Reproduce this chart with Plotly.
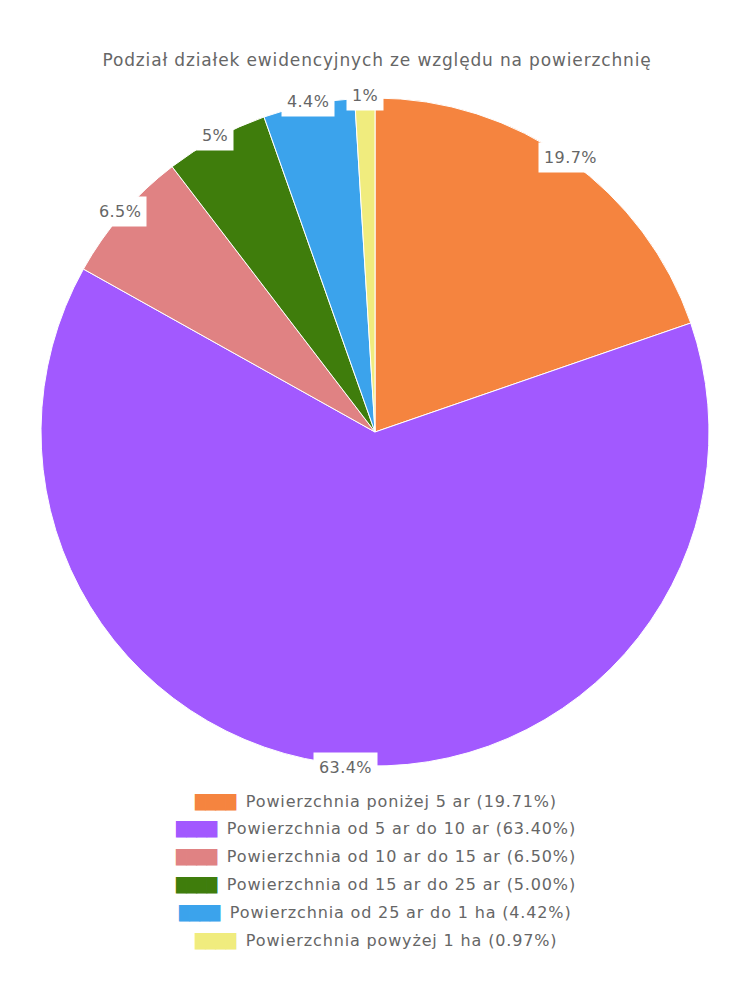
import math

import plotly.graph_objects as go

TITLE = "Podział działek ewidencyjnych ze względu na powierzchnię"
LABELS = [
    "Powierzchnia poniżej 5 ar",
    "Powierzchnia od 5 ar do 10 ar",
    "Powierzchnia od 10 ar do 15 ar",
    "Powierzchnia od 15 ar do 25 ar",
    "Powierzchnia od 25 ar do 1 ha",
    "Powierzchnia powyżej 1 ha",
]
VALUES = [19.71, 63.40, 6.50, 5.00, 4.42, 0.97]
COLORS = ["#F5843F", "#A259FF", "#E08283", "#3F7D0C", "#3BA3EC", "#F0EC7E"]

_FONT = "DejaVu Sans"
_TEXT_COLOR = "#666666"
_W, _H = 750, 1000
_OFF = 8  # page body margin
_CX, _CY, _R = 375 - _OFF, 432 - _OFF, 334
_LABEL_R = 337


def _short_pct(v: float) -> str:
    s = f"{v:.1f}"
    return (s[:-2] if s.endswith(".0") else s) + "%"


def _spaced(text: str, px: float) -> str:
    return f'<span style="letter-spacing:{px}px">{text}</span>'


fig = go.Figure(
    go.Pie(
        labels=LABELS,
        values=VALUES,
        sort=False,
        direction="clockwise",
        rotation=0,
        marker={"colors": COLORS, "line": {"color": "white", "width": 1}},
        textinfo="none",
        hoverinfo="label+percent",
        showlegend=False,
        domain={
            "x": [(_CX - _R) / _W, (_CX + _R) / _W],
            "y": [1 - (_CY + _R) / _H, 1 - (_CY - _R) / _H],
        },
    )
)

# slice labels in white boxes on the rim
total = sum(VALUES)
cum = 0.0
annotations = []
for v in VALUES:
    mid = (cum + v / 2) / total * 2 * math.pi
    cum += v
    px = _CX + _LABEL_R * math.sin(mid)
    py = _CY - _LABEL_R * math.cos(mid)
    annotations.append(
        dict(
            x=px / _W,
            y=1 - py / _H,
            xref="paper",
            yref="paper",
            xanchor="center",
            yanchor="middle",
            text=_spaced(_short_pct(v), 0.4),
            showarrow=False,
            bgcolor="white",
            borderpad=5,
            font={"family": _FONT, "size": 16, "color": _TEXT_COLOR},
        )
    )

# centred legend rows
for i, (lab, v, c) in enumerate(zip(LABELS, VALUES, COLORS)):
    annotations.append(
        dict(
            x=(375 - _OFF) / _W,
            y=1 - (801 - _OFF + i * 27.8) / _H,
            xref="paper",
            yref="paper",
            xanchor="center",
            yanchor="middle",
            text=(
                f'<span style="color:{c};font-size:14px;letter-spacing:-0.6px;'
                f'font-family:DejaVu Sans">████</span>  '
                + _spaced(f"{lab} ({v:.2f}%)", 0.85)
            ),
            showarrow=False,
            font={"family": _FONT, "size": 16, "color": _TEXT_COLOR},
        )
    )

fig.update_layout(
    width=_W,
    height=_H,
    margin={"l": 0, "r": 0, "t": 0, "b": 0},
    paper_bgcolor="white",
    title={
        "text": _spaced(TITLE, 0.85),
        "x": (377 - _OFF) / _W,
        "y": 1 - (60 - _OFF) / _H,
        "xanchor": "center",
        "yanchor": "middle",
        "font": {"family": _FONT, "size": 17, "color": _TEXT_COLOR},
    },
    annotations=annotations,
)

fig.write_html("out.html")
